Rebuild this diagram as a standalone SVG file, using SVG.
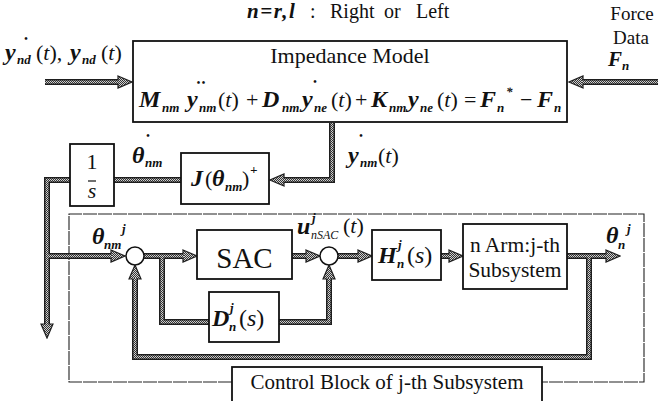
<svg xmlns="http://www.w3.org/2000/svg" width="667" height="401" viewBox="0 0 667 401">
<style>
text{font-family:"Liberation Serif","Times New Roman",serif;fill:#111;font-size:22px}
.bi{font-weight:bold;font-style:italic;font-size:24px}
.it{font-style:italic}
.sub{font-weight:bold;font-style:italic;font-size:13px}
.sup{font-weight:bold;font-style:italic;font-size:13px}
.dot{font-weight:bold;font-size:10px}
.box{fill:#fff;stroke:#111;stroke-width:1.8}
.sum{fill:#fff;stroke:#111;stroke-width:1.5}
.frame{fill:none;stroke:#222;stroke-width:1.1;stroke-dasharray:14 1}
.ol{fill:none;stroke:#1e1e1e;stroke-width:6}
.olA{fill:none;stroke:#1e1e1e;stroke-width:6;marker-end:url(#ah)}
.il{fill:none;stroke:url(#dith);stroke-width:3}
</style>
<defs>
<pattern id="dith" width="2" height="2" patternUnits="userSpaceOnUse">
<rect width="2" height="2" fill="#d0d0d0"/>
<rect width="1" height="1" fill="#333"/>
<rect x="1" y="1" width="1" height="1" fill="#333"/>
</pattern>
<marker id="ah" markerUnits="userSpaceOnUse" markerWidth="16" markerHeight="14" viewBox="-1 -1 16 14" refX="1" refY="6" orient="auto">
<path d="M0,0 L14,6 L0,12 Z" fill="url(#dith)" stroke="#1e1e1e" stroke-width="1.2"/>
</marker>
<path id="c-in" d="M45,82 H119"/>
<path id="c-force" d="M658,82 H582"/>
<path id="c-imp" d="M332,123 V180 H283"/>
<path id="c-j" d="M181,180 H114"/>
<path id="c-int" d="M70,180 H47 V325"/>
<path id="c-main" d="M47,256 H112"/>
<path id="c-s1" d="M144,256 H184"/>
<path id="c-br" d="M162,256 V322 H209"/>
<path id="c-d" d="M279,322 H329 V278"/>
<path id="c-sac" d="M292,256 H307"/>
<path id="c-s2" d="M338,256 H359"/>
<path id="c-h" d="M441,256 H450"/>
<path id="c-out" d="M567,256 H607"/>
<path id="c-fb" d="M589,256 V357 H135 V278"/>
</defs>
<rect width="667" height="401" fill="#fff"/>

<g id="frame">
<path class="frame" d="M232,382 H69 V214 H644 V382 H542"/>
</g>

<g id="connectors">
<use href="#c-in" class="olA"/>
<use href="#c-force" class="olA"/>
<use href="#c-imp" class="olA"/>
<use href="#c-j" class="ol"/>
<use href="#c-int" class="olA"/>
<use href="#c-main" class="olA"/>
<use href="#c-s1" class="olA"/>
<use href="#c-br" class="ol"/>
<use href="#c-d" class="olA"/>
<use href="#c-sac" class="olA"/>
<use href="#c-s2" class="olA"/>
<use href="#c-h" class="olA"/>
<use href="#c-out" class="olA"/>
<use href="#c-fb" class="olA"/>
<use href="#c-in" class="il"/>
<use href="#c-force" class="il"/>
<use href="#c-imp" class="il"/>
<use href="#c-j" class="il"/>
<use href="#c-int" class="il"/>
<use href="#c-main" class="il"/>
<use href="#c-s1" class="il"/>
<use href="#c-br" class="il"/>
<use href="#c-d" class="il"/>
<use href="#c-sac" class="il"/>
<use href="#c-s2" class="il"/>
<use href="#c-h" class="il"/>
<use href="#c-out" class="il"/>
<use href="#c-fb" class="il"/>
</g>

<g id="title">
<text x="247" y="18" style="font-size:20px"><tspan style="font-weight:bold;font-style:italic;font-size:21px;letter-spacing:1.5px">n=r,l</tspan><tspan x="310">:</tspan><tspan x="330">Right</tspan><tspan x="384">or</tspan><tspan x="416">Left</tspan></text>
</g>

<g id="force-label">
<text x="632" y="20" text-anchor="middle" style="font-size:19px">Force</text>
<text x="631" y="44" text-anchor="middle" style="font-size:19px">Data</text>
<text x="608" y="66" class="bi" style="font-size:21px">F</text>
<text x="622" y="70" class="sub">n</text>
</g>

<g id="input-label">
<text x="26" y="42" class="dot" text-anchor="middle">•</text>
<text x="5" y="60" class="bi">y</text>
<text x="17" y="64" class="sub">nd</text>
<text x="36" y="60">(<tspan class="it">t</tspan>),</text>
<text x="70" y="60" class="bi">y</text>
<text x="82" y="64" class="sub">nd</text>
<text x="101" y="60">(<tspan class="it">t</tspan>)</text>
</g>

<g id="impedance">
<rect class="box" x="133" y="41" width="434" height="81"/>
<text x="350" y="63" text-anchor="middle">Impedance Model</text>
<text x="139" y="107" class="bi">M</text>
<text x="162" y="112" class="sub">nm</text>
<text x="201.7" y="86" class="dot" text-anchor="middle" style="letter-spacing:1.5px">••</text>
<text x="187" y="107" class="bi">y</text>
<text x="199" y="112" class="sub">nm</text>
<text x="218" y="107">(<tspan class="it">t</tspan>)</text>
<text x="246" y="107">+</text>
<text x="262" y="107" class="bi">D</text>
<text x="282" y="112" class="sub">nm</text>
<text x="315" y="85" class="dot" text-anchor="middle">•</text>
<text x="302" y="107" class="bi">y</text>
<text x="314" y="112" class="sub">ne</text>
<text x="331" y="107">(<tspan class="it">t</tspan>)</text>
<text x="355" y="107">+</text>
<text x="371" y="107" class="bi">K</text>
<text x="389" y="112" class="sub">nm</text>
<text x="408" y="107" class="bi">y</text>
<text x="420" y="112" class="sub">ne</text>
<text x="437" y="107">(<tspan class="it">t</tspan>)</text>
<text x="464" y="107">=</text>
<text x="480" y="107" class="bi">F</text>
<text x="497" y="112" class="sub">n</text>
<text x="506" y="96" class="sup">*</text>
<text x="520" y="107">−</text>
<text x="537" y="107" class="bi">F</text>
<text x="554" y="112" class="sub">n</text>
</g>

<g id="ydot-label">
<text x="361" y="139" class="dot" text-anchor="middle">•</text>
<text x="348" y="163" class="bi">y</text>
<text x="360" y="167" class="sub">nm</text>
<text x="378" y="163">(<tspan class="it">t</tspan>)</text>
</g>

<g id="jacobian">
<rect class="box" x="181" y="153" width="88" height="51"/>
<text x="191" y="186" class="bi">J</text>
<text x="205" y="186">(</text>
<text x="212" y="186" class="bi">θ</text>
<text x="225" y="191" class="sub">nm</text>
<text x="242" y="186">)</text>
<text x="250" y="174" class="sup">+</text>
</g>

<g id="integrator">
<rect class="box" x="70" y="144" width="44" height="62"/>
<text x="92" y="169" text-anchor="middle">1</text>
<line x1="88" y1="181" x2="96" y2="181" stroke="#111" stroke-width="1.2"/>
<text x="92" y="198" text-anchor="middle" class="it">s</text>
</g>

<g id="thetadot-label">
<text x="148" y="139" class="dot" text-anchor="middle">•</text>
<text x="132" y="163" class="bi">θ</text>
<text x="145" y="167" class="sub">nm</text>
</g>

<g id="theta-in-label">
<text x="92" y="244" class="bi">θ</text>
<text x="104" y="249" class="sub">nm</text>
<text x="122" y="233" class="sup">j</text>
</g>

<g id="sum1">
<circle class="sum" cx="135" cy="256" r="9"/>
</g>

<g id="sac">
<rect class="box" x="197" y="230" width="95" height="49"/>
<text x="244.5" y="268" text-anchor="middle" style="font-size:29px">SAC</text>
</g>

<g id="u-label">
<text x="297" y="234" class="bi">u</text>
<text x="312" y="222" class="sup">j</text>
<text x="311" y="239" class="it" style="font-size:12px">nSAC</text>
<text x="343" y="233">(<tspan class="it">t</tspan>)</text>
</g>

<g id="sum2">
<circle class="sum" cx="329" cy="256" r="9"/>
</g>

<g id="dfilter">
<rect class="box" x="209" y="292" width="70" height="50"/>
<text x="212" y="326" class="bi">D</text>
<text x="230" y="312" class="sup">j</text>
<text x="229" y="331" class="sub">n</text>
<text x="239" y="326" style="font-size:24px">(<tspan class="it">s</tspan>)</text>
</g>

<g id="hfilter">
<rect class="box" x="372" y="230" width="69" height="50"/>
<text x="378" y="263" class="bi">H</text>
<text x="398" y="249" class="sup">j</text>
<text x="397" y="268" class="sub">n</text>
<text x="407" y="263" style="font-size:24px">(<tspan class="it">s</tspan>)</text>
</g>

<g id="arm">
<rect class="box" x="463" y="224" width="104" height="65"/>
<text x="515" y="252" text-anchor="middle" style="font-size:21.5px">n Arm:j-th</text>
<text x="515" y="277" text-anchor="middle" style="font-size:21.5px">Subsystem</text>
</g>

<g id="theta-out-label">
<text x="606" y="243" class="bi">θ</text>
<text x="618" y="249" class="sub">n</text>
<text x="627" y="233" class="sup">j</text>
</g>

<g id="control-label">
<rect class="box" x="232" y="367" width="310" height="40"/>
<text x="387" y="389" text-anchor="middle" style="font-size:21px">Control Block of j-th Subsystem</text>
</g>
</svg>
